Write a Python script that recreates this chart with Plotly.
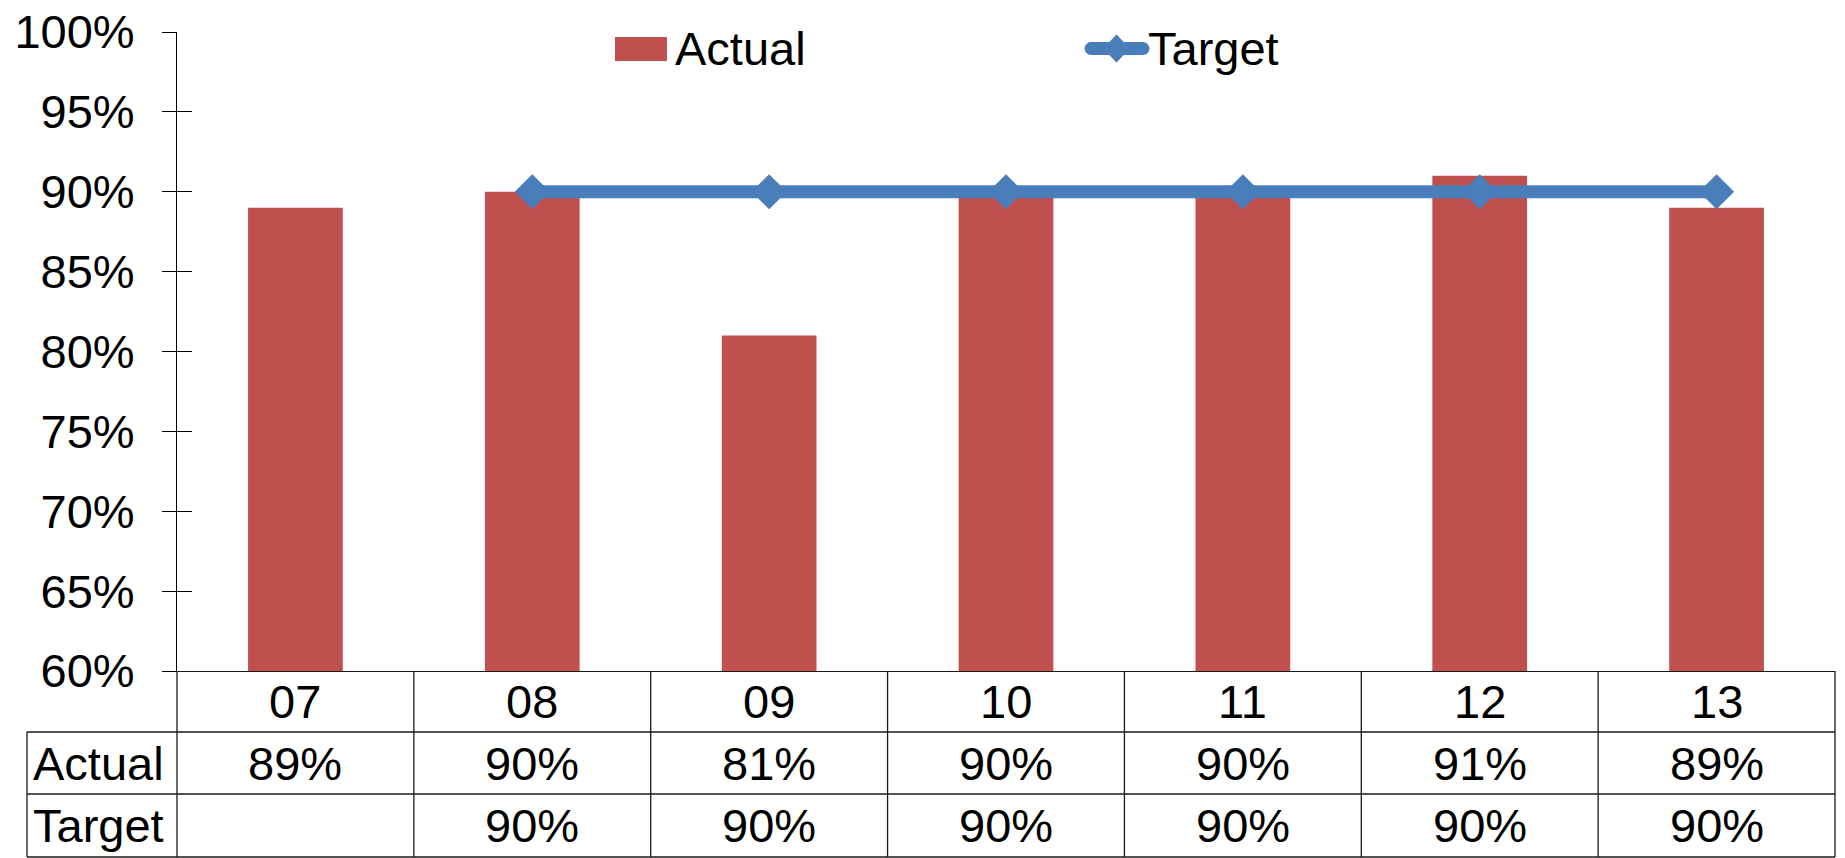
import plotly.graph_objects as go

categories = ["07", "08", "09", "10", "11", "12", "13"]
actual = [89, 90, 81, 90, 90, 91, 89]
target = [None, 90, 90, 90, 90, 90, 90]
series_names = ["Actual", "Target"]
y_ticks = [60, 65, 70, 75, 80, 85, 90, 95, 100]
y_tick_labels = [f"{v}%" for v in y_ticks]

BAR_COLOR = "#C0504D"
LINE_COLOR = "#4A7EBB"
FONT = "Liberation Sans, Arial, sans-serif"
FS = 47
GRID = "#1a1a1a"

W, H = 1845, 858
L, R, T, B = 177, 10, 32, 187
PW, PH = W - L - R, H - T - B


def px_x(p):
    return (p - L) / PW


def px_y(p):
    return (H - B - p) / PH


fig = go.Figure()
fig.add_trace(go.Bar(
    x=categories, y=actual, name=series_names[0],
    marker=dict(color=BAR_COLOR, line=dict(width=0)), width=0.4,
    showlegend=False,
))
fig.add_trace(go.Scatter(
    x=categories, y=target, name=series_names[1], mode="lines+markers",
    line=dict(color=LINE_COLOR, width=13),
    marker=dict(symbol="diamond", size=27, color=LINE_COLOR),
    showlegend=False, cliponaxis=False,
))
# trace on the overlay axis used for the inner half of the cross ticks
fig.add_trace(go.Scatter(x=[categories[0]], y=[None], yaxis="y2", showlegend=False,
                         hoverinfo="skip"))

shapes = []
annotations = []

row_lines = [732, 794, 857]
row_centers = [701, 763, 825]
n = len(categories)
left_col = px_x(27)

for k in range(n + 1):
    shapes.append(dict(type="line", xref="paper", yref="paper",
                       x0=k / n, x1=k / n, y0=0, y1=px_y(row_lines[-1]),
                       line=dict(color=GRID, width=1.3)))
for rl in row_lines:
    shapes.append(dict(type="line", xref="paper", yref="paper",
                       x0=left_col, x1=1, y0=px_y(rl), y1=px_y(rl),
                       line=dict(color=GRID, width=1.3)))
shapes.append(dict(type="line", xref="paper", yref="paper",
                   x0=left_col, x1=left_col, y0=px_y(row_lines[0]), y1=px_y(row_lines[-1]),
                   line=dict(color=GRID, width=1.3)))


def cat_x(i):
    # centre of category i in paper coordinates (axis range is [-0.5, n-0.5])
    return (i + 0.5) / n


for i, c in enumerate(categories):
    annotations.append(dict(x=cat_x(i), xref="paper", y=px_y(row_centers[0]), yref="paper",
                            text=c, showarrow=False, xanchor="center", yanchor="middle",
                            font=dict(family=FONT, size=FS, color="black")))
for ri, (name, vals) in enumerate(zip(series_names, [actual, target])):
    yc = px_y(row_centers[ri + 1])
    annotations.append(dict(x=px_x(31), xref="paper", y=yc, yref="paper",
                            text=name, showarrow=False, xanchor="left", yanchor="middle",
                            font=dict(family=FONT, size=FS, color="black")))
    for i, v in enumerate(vals):
        if v is None:
            continue
        annotations.append(dict(x=cat_x(i), xref="paper", y=yc, yref="paper",
                                text=f"{v}%", showarrow=False, xanchor="center", yanchor="middle",
                                font=dict(family=FONT, size=FS, color="black")))

# custom legend
shapes.append(dict(type="rect", xref="paper", yref="paper",
                   x0=px_x(615), x1=px_x(667), y0=px_y(61), y1=px_y(37),
                   fillcolor=BAR_COLOR, line=dict(width=0)))
annotations.append(dict(x=px_x(673), xref="paper", y=px_y(48), yref="paper",
                        text=series_names[0], showarrow=False, xanchor="left", yanchor="middle",
                        font=dict(family=FONT, size=FS, color="black")))
shapes.append(dict(type="line", xref="paper", yref="paper",
                   x0=px_x(1091), x1=px_x(1143), y0=px_y(48.5), y1=px_y(48.5),
                   line=dict(color=LINE_COLOR, width=13)))
for cx in (1091, 1143):
    shapes.append(dict(type="circle", xref="paper", yref="paper",
                       x0=px_x(cx - 6.5), x1=px_x(cx + 6.5), y0=px_y(55), y1=px_y(42),
                       fillcolor=LINE_COLOR, line=dict(width=0)))
dcx, dcy = 1116.5, 48.5
diamond = (f"M {px_x(dcx - 13.5)} {px_y(dcy)} L {px_x(dcx)} {px_y(dcy - 14)} "
           f"L {px_x(dcx + 13.5)} {px_y(dcy)} L {px_x(dcx)} {px_y(dcy + 14)} Z")
shapes.append(dict(type="path", xref="paper", yref="paper", path=diamond,
                   fillcolor=LINE_COLOR, line=dict(width=0)))
annotations.append(dict(x=px_x(1146), xref="paper", y=px_y(48), yref="paper",
                        text=series_names[1], showarrow=False, xanchor="left", yanchor="middle",
                        font=dict(family=FONT, size=FS, color="black")))

fig.update_layout(
    width=W, height=H,
    margin=dict(l=L, r=R, t=T, b=B, pad=0, autoexpand=False),
    paper_bgcolor="white", plot_bgcolor="white",
    showlegend=False,
    shapes=shapes, annotations=annotations,
    xaxis=dict(type="category", range=[-0.5, n - 0.5], showline=True, linecolor=GRID,
               linewidth=1.3, showgrid=False, ticks="", showticklabels=False, zeroline=False),
    yaxis=dict(range=[60, 100], tickmode="array", tickvals=y_ticks, ticktext=y_tick_labels,
               showline=True, linecolor="black", linewidth=1, ticks="outside", ticklen=14,
               tickwidth=1, tickcolor="black", showgrid=False, zeroline=False,
               ticklabelstandoff=18,
               tickfont=dict(family=FONT, size=FS, color="black")),
    yaxis2=dict(range=[60, 100], tickmode="array", tickvals=y_ticks, overlaying="y",
                side="left", anchor="x", ticks="inside", ticklen=15, tickwidth=1,
                tickcolor="black", showticklabels=False, showgrid=False, zeroline=False,
                showline=False),
)

fig.write_html("out.html", config={"displayModeBar": False},
               post_script="document.body.style.margin='0';")
